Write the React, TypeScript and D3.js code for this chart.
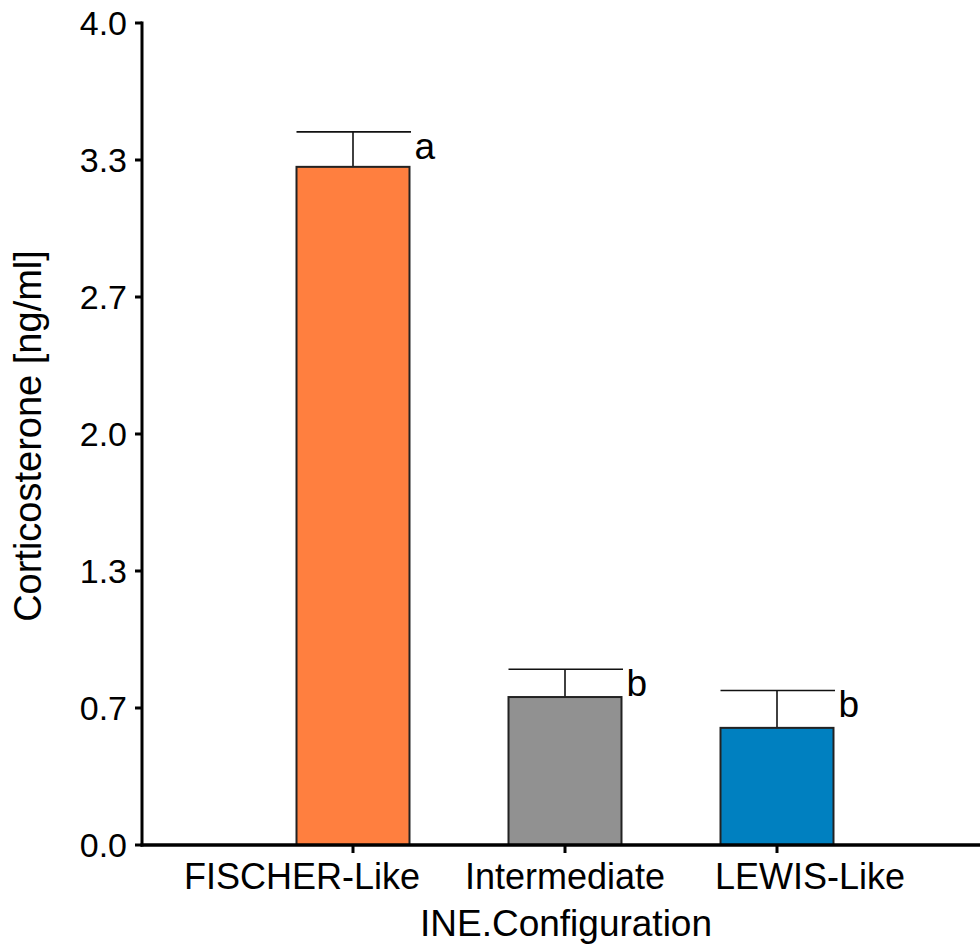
import React from "react";
import * as d3 from "d3";

const categories = ["FISCHER-Like", "Intermediate", "LEWIS-Like"];
const means = [3.3, 0.72, 0.57];
const errors = [0.17, 0.135, 0.182];
const letters = ["a", "b", "b"];
const colors = ["#FF7F3F", "#919191", "#0080C0"];
const yTickValues = [0, 4 / 6, 8 / 6, 2, 16 / 6, 20 / 6, 4];
const yTickLabels = ["0.0", "0.7", "1.3", "2.0", "2.7", "3.3", "4.0"];
const xLabelShift = [-51, 0, 33];

const W = 980;
const H = 949;
const FONT = "'Liberation Sans', Arial, Helvetica, sans-serif";

export default function App() {
  const axisX = 142;
  const y = d3.scaleLinear().domain([0, 4]).range([845, 23]);
  const x = d3
    .scaleBand<string>()
    .domain(categories)
    .range([247, 883])
    .paddingInner(0.467)
    .paddingOuter(0.2335);
  const bw = x.bandwidth();

  return (
    <svg
      width={W}
      height={H}
      style={{ position: "absolute", left: 0, top: 0, background: "#fff" }}
      fontFamily={FONT}
    >
      {/* bars */}
      {categories.map((c, i) => {
        const x0 = x(c)!;
        const cx = x0 + bw / 2;
        const top = y(means[i]);
        const capY = y(means[i] + errors[i]);
        return (
          <g key={c}>
            <line x1={cx} x2={cx} y1={top} y2={capY} stroke="#111" strokeWidth={1.6} />
            <line x1={x0} x2={x0 + bw + 1.5} y1={capY} y2={capY} stroke="#111" strokeWidth={1.6} />
            <rect
              x={x0}
              y={top}
              width={bw}
              height={y(0) - top}
              fill={colors[i]}
              stroke="#222"
              strokeWidth={2}
            />
            <text x={x0 + bw + 5} y={capY + 27} fontSize={37} fill="#000">
              {letters[i]}
            </text>
          </g>
        );
      })}
      {/* y axis */}
      <line x1={axisX} x2={axisX} y1={y(4) - 1.5} y2={y(0) + 1.5} stroke="#000" strokeWidth={3} />
      {yTickValues.map((v, i) => (
        <g key={i}>
          <line x1={axisX - 7} x2={axisX} y1={y(v)} y2={y(v)} stroke="#000" strokeWidth={3} />
          <text
            x={127}
            y={y(v)}
            dy="0.36em"
            textAnchor="end"
            fontSize={34}
            fill="#000"
          >
            {yTickLabels[i]}
          </text>
        </g>
      ))}
      {/* x axis */}
      <line x1={axisX - 1.5} x2={W} y1={y(0)} y2={y(0)} stroke="#000" strokeWidth={3.5} />
      {categories.map((c, i) => {
        const cx = x(c)! + bw / 2;
        return (
          <g key={c}>
            <line x1={cx} x2={cx} y1={y(0)} y2={y(0) + 8} stroke="#000" strokeWidth={3} />
            <text x={cx + xLabelShift[i]} y={889} textAnchor="middle" fontSize={36} fill="#000">
              {c}
            </text>
          </g>
        );
      })}
      <text x={566} y={936} textAnchor="middle" fontSize={37} fill="#000">
        INE.Configuration
      </text>
      <text
        transform="translate(41,436) rotate(-90)"
        textAnchor="middle"
        fontSize={38}
        fill="#000"
      >
        Corticosterone [ng/ml]
      </text>
    </svg>
  );
}
